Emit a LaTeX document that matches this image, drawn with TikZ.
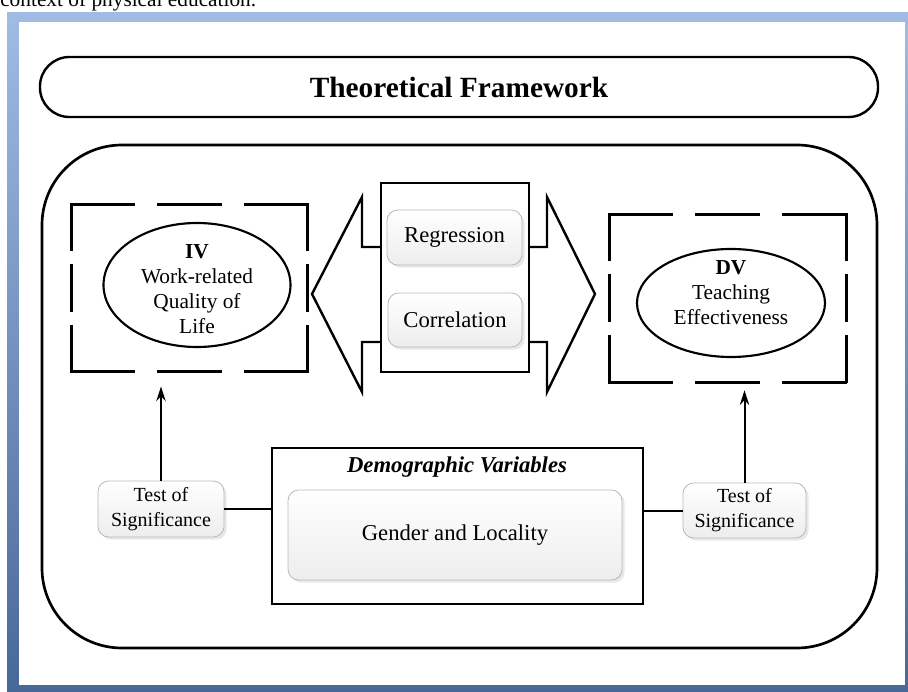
\documentclass[tikz,border=0pt]{standalone}
\usepackage{fontspec}
\setmainfont{Liberation Serif}
\usetikzlibrary{shapes.geometric,arrows.meta,shadows}

\definecolor{frametop}{RGB}{160,187,228}
\definecolor{framebot}{RGB}{72,104,152}

\tikzset{
  txt/.style={font=\fontsize{16}{18.75}\selectfont, align=center},
  softbox/.style={txt, font=\fontsize{17}{18.75}\selectfont, draw=gray!55, line width=0.6pt, rounded corners=8pt,
    top color=white, bottom color=gray!14, inner sep=0pt,
    drop shadow={opacity=0.18, shadow xshift=2pt, shadow yshift=-2pt}},
  dashh/.style={line width=2.2pt, line cap=rect, dash pattern=on 46.5pt off 18.75pt},
  dashv/.style={line width=2.2pt, line cap=rect, dash pattern=on 33.75pt off 12pt},
  varell/.style={ellipse, draw, line width=1.6pt, fill=white, inner sep=0pt},
  plainbox/.style={draw, line width=1.8pt, fill=white, inner sep=0pt},
  link/.style={line width=1.5pt},
}

\begin{document}
\begin{tikzpicture}[x=0.75pt,y=-0.75pt]
  \useasboundingbox (0,0) rectangle (908,692);
  \fill[top color=frametop, bottom color=framebot] (7,13) rectangle (908,692);
  \fill[white] (19,22) rectangle (905,685);
  \node[anchor=base west, inner sep=0pt, font=\fontsize{16}{18}\selectfont] (ctx) at (0,7) {context of physical education.};

  \node[draw, line width=1.8pt, rounded corners=22pt, minimum width=628.5pt, minimum height=45pt,
    font=\fontsize{22}{24}\selectfont\bfseries] (title) at (459,87) {Theoretical Framework};
  \node[draw, line width=2pt, rounded corners=60pt, minimum width=626.25pt, minimum height=377.25pt] (frame) at (459.5,396.5) {};

  % independent / dependent variable
  \node[inner sep=0pt, minimum width=177pt, minimum height=125.25pt] (ivbox) at (189.5,288) {};
  \node[inner sep=0pt, minimum width=177pt, minimum height=125.25pt] (dvbox) at (728,298.5) {};
  \foreach \b in {ivbox,dvbox} {
    \draw[dashh] (\b.north west) -- (\b.north east);
    \draw[dashh] (\b.south west) -- (\b.south east);
    \draw[dashv] (\b.north west) -- (\b.south west);
    \draw[dashv] (\b.north east) -- (\b.south east);
  }
  \node[varell, minimum width=140.25pt, minimum height=93pt] (ivell) at (197,285) {};
  \node[txt] (ivtxt) at (197,289) {\textbf{IV}\\Work-related\\Quality of\\Life};
  \node[varell, minimum width=141pt, minimum height=81pt] (dvell) at (731,303) {};
  \node[txt] (dvtxt) at (731,293) {\textbf{DV}\\Teaching\\Effectiveness};

  % analysis
  \draw[line width=1.8pt, fill=white] (312,294) -- (362,197) -- (362,247) -- (547,247) -- (547,197) -- (595,294)
    -- (547,392) -- (547,342) -- (362,342) -- (362,392) -- cycle;
  \node[plainbox, minimum width=111pt, minimum height=141.75pt] (method) at (455,277.5) {};
  \node[softbox, minimum width=101.25pt, minimum height=41.25pt] (regr) at (454.5,237.5) {Regression};
  \node[softbox, minimum width=100.5pt, minimum height=40.5pt] (corr) at (455,320) {Correlation};

  % demographic variables
  \node[plainbox, minimum width=278.25pt, minimum height=117pt] (demo) at (457.5,526) {};
  \node[txt, font=\fontsize{17}{18.75}\selectfont\bfseries\itshape] (demotitle) at (457,467) {Demographic Variables};
  \node[softbox, minimum width=250.5pt, minimum height=67.5pt] (gender) at (455,535) {Gender and Locality};
  \node[softbox, font=\fontsize{15}{18.75}\selectfont, minimum width=94.5pt, minimum height=42pt] (ltest) at (161,509) {Test of\\Significance};
  \node[softbox, font=\fontsize{15}{18.75}\selectfont, minimum width=92.25pt, minimum height=41.25pt] (rtest) at (744.5,510.5) {Test of\\Significance};

  \draw[link] (ltest.east) -- (ltest.east -| demo.west);
  \draw[link] (rtest.west) -- (rtest.west -| demo.east);
  \draw[link, -{Stealth[length=11pt,width=7pt]}, shorten >=11pt] (ltest.north) -- (ltest.north |- ivbox.south);
  \draw[link, -{Stealth[length=11pt,width=7pt]}, shorten >=6pt] (rtest.north) -- (rtest.north |- dvbox.south);
\end{tikzpicture}
\end{document}
